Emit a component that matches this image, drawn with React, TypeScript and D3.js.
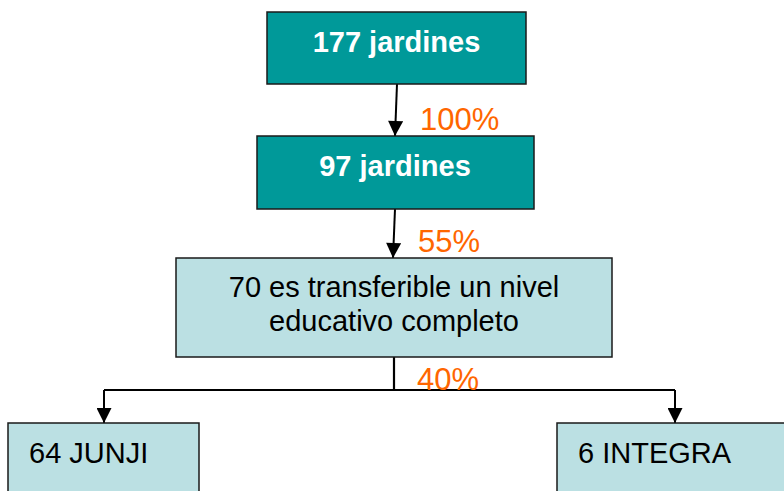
import React, { useEffect, useRef } from 'react';
import * as d3 from 'd3';

// diagram content
const nodeLabels = [
  ['177 jardines'],
  ['97 jardines'],
  ['70 es transferible un nivel', 'educativo completo'],
  ['64 JUNJI'],
  ['6 INTEGRA']
];
const shareLabels = ['100%', '55%', '40%'];

// layout (pixels)
const boxes = [
  { x0: 267, x1: 526, y0: 12, y1: 84, fill: '#009999', color: '#ffffff', bold: true, anchor: 'middle', tx: 396.5, ty: [52] },
  { x0: 257, x1: 534, y0: 136, y1: 209, fill: '#009999', color: '#ffffff', bold: true, anchor: 'middle', tx: 395, ty: [176] },
  { x0: 176, x1: 612, y0: 258, y1: 357, fill: '#bbe0e3', color: '#000000', bold: false, anchor: 'middle', tx: 394, ty: [297, 331] },
  { x0: 8, x1: 199, y0: 423, y1: 520, fill: '#bbe0e3', color: '#000000', bold: false, anchor: 'start', tx: 29, ty: [463] },
  { x0: 557, x1: 820, y0: 423, y1: 520, fill: '#bbe0e3', color: '#000000', bold: false, anchor: 'start', tx: 578, ty: [463] }
];
const arrows = [
  [[397, 84], [395, 136]],
  [[395, 209], [393, 258]],
  [[104, 390], [104, 423]],
  [[675, 390], [675, 423]]
];
const plainLines = [
  [[394, 357], [394, 390]],
  [[104, 390], [675, 390]]
];
const sharePos = [
  [420, 130],
  [418, 252],
  [417, 390]
];

const FONT = '"Liberation Sans", Arial, sans-serif';

export default function App() {
  const ref = useRef<SVGSVGElement>(null);

  useEffect(() => {
    const svg = d3.select(ref.current);
    svg.selectAll('*').remove();

    svg
      .append('defs')
      .append('marker')
      .attr('id', 'head')
      .attr('viewBox', '0 0 16 16')
      .attr('refX', 16)
      .attr('refY', 8)
      .attr('markerWidth', 16)
      .attr('markerHeight', 15)
      .attr('markerUnits', 'userSpaceOnUse')
      .attr('orient', 'auto')
      .append('path')
      .attr('d', 'M0,0 L16,8 L0,16 Z')
      .attr('fill', '#000');

    const line = d3.line();

    svg
      .append('g')
      .selectAll('path')
      .data(plainLines)
      .join('path')
      .attr('d', d => line(d as [number, number][]))
      .attr('fill', 'none')
      .attr('stroke', '#000')
      .attr('stroke-width', 2.2);

    svg
      .append('g')
      .selectAll('path')
      .data(arrows)
      .join('path')
      .attr('d', d => line(d as [number, number][]))
      .attr('fill', 'none')
      .attr('stroke', '#000')
      .attr('stroke-width', 2)
      .attr('marker-end', 'url(#head)');

    const node = svg
      .append('g')
      .selectAll('g')
      .data(boxes)
      .join('g');

    node
      .append('rect')
      .attr('x', d => d.x0)
      .attr('y', d => d.y0)
      .attr('width', d => d.x1 - d.x0)
      .attr('height', d => d.y1 - d.y0)
      .attr('fill', d => d.fill)
      .attr('stroke', '#1a1a1a')
      .attr('stroke-width', 1.5);

    node.each(function (d, i) {
      const g = d3.select(this);
      nodeLabels[i].forEach((txt, j) => {
        g.append('text')
          .attr('x', d.tx)
          .attr('y', d.ty[j])
          .attr('text-anchor', d.anchor)
          .style('font-family', FONT)
          .style('font-size', '29px')
          .style('font-weight', d.bold ? 'bold' : 'normal')
          .style('fill', d.color)
          .text(txt);
      });
    });

    svg
      .append('g')
      .selectAll('text')
      .data(shareLabels)
      .join('text')
      .attr('x', (d, i) => sharePos[i][0])
      .attr('y', (d, i) => sharePos[i][1])
      .style('font-family', FONT)
      .style('font-size', '31px')
      .style('fill', '#ff6600')
      .text(d => d);
  }, []);

  return (
    <svg
      ref={ref}
      width={784}
      height={491}
      style={{ position: 'absolute', left: 0, top: 0, background: '#fff' }}
    />
  );
}
